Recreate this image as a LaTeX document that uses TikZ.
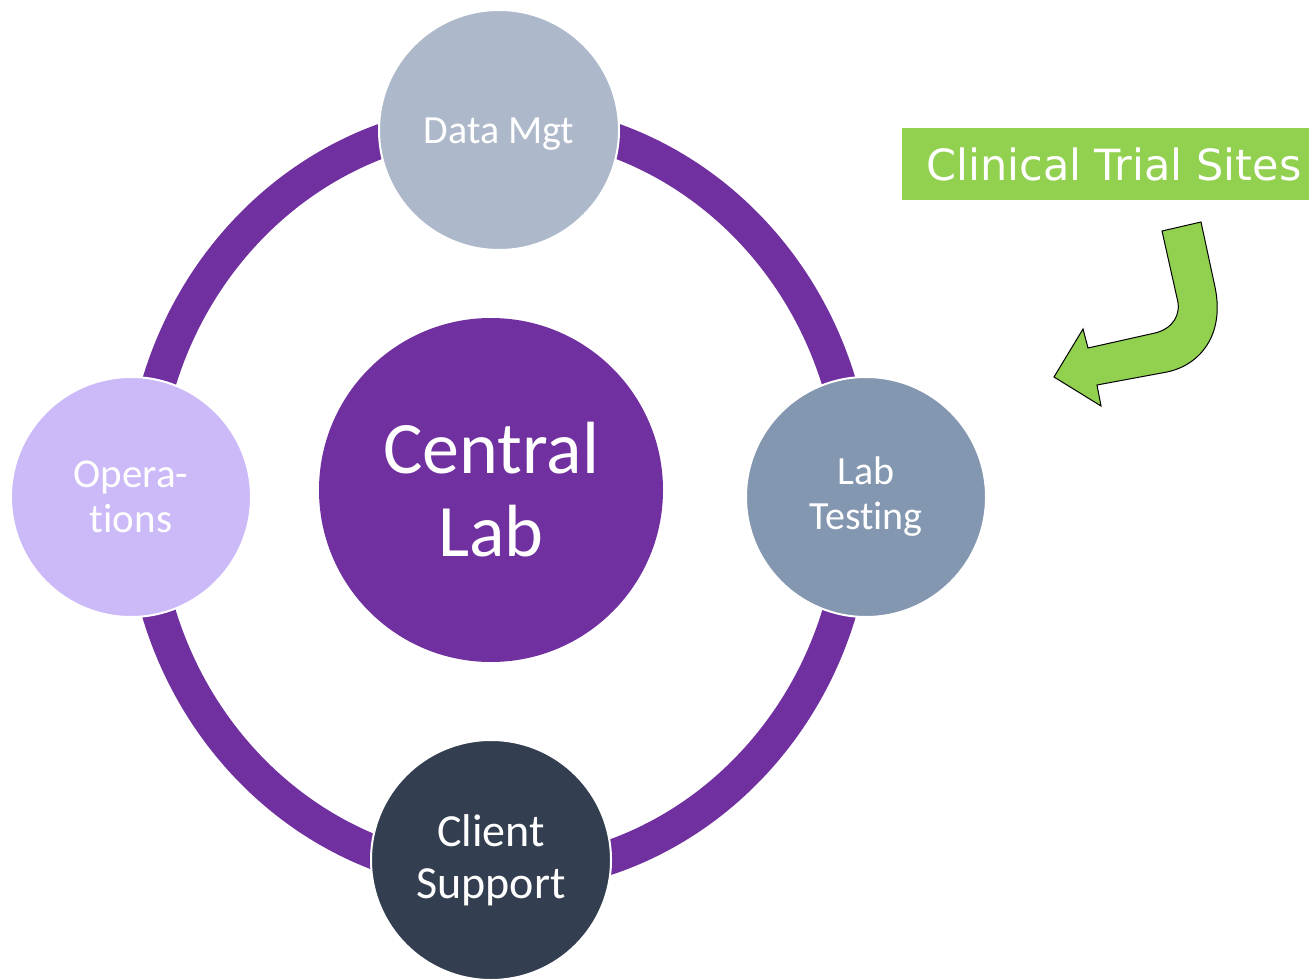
\documentclass[tikz,border=0pt]{standalone}
\usepackage{fontspec}
\setmainfont{Carlito}[Ligatures={NoCommon,NoContextual,NoRare},Contextuals=NoAlternate]
\newfontfamily\sitefont{DejaVu Sans}
\definecolor{ringpurple}{RGB}{112,48,160}
\definecolor{datagray}{RGB}{173,185,202}
\definecolor{labblue}{RGB}{132,151,176}
\definecolor{supportnavy}{RGB}{51,63,80}
\definecolor{opslilac}{RGB}{204,185,248}
\definecolor{sitegreen}{RGB}{146,208,80}
\begin{document}
\begin{tikzpicture}[x=1pt,y=-1pt,
    hub/.style={circle,fill=ringpurple,minimum size=344pt,inner sep=0pt,text=white,align=center,font=\fontsize{74}{83}\selectfont},
    sat/.style={circle,draw=white,line width=2pt,minimum size=240pt,inner sep=0pt,text=white,align=center,font=\fontsize{40}{45}\selectfont},
    ring/.style={draw=ringpurple,line width=34pt}]
        \useasboundingbox (0,0) rectangle (1309,979);
        % ring behind the satellites
        \coordinate (ctr) at (499,498);
        \draw[ring] (ctr) ellipse [x radius=357, y radius=378];
        \node[hub] (central) at (491,490) {Central\\Lab};
        \node[sat,fill=datagray,text height=26pt,text depth=0pt] (data) at (499,130) {Data Mgt};
        \node[sat,fill=labblue] (lab) at (866,497) {Lab\\Testing};
        \node[sat,fill=supportnavy,font=\fontsize{46}{52}\selectfont] (support) at (491,860) {Client\\Support};
        \node[sat,fill=opslilac,font=\fontsize{41}{45}\selectfont] (ops) at (131,497) {Opera-\\tions};
        % sites label and bent arrow
        \node[fill=sitegreen,text=white,anchor=west,minimum height=72pt,inner xsep=24pt,inner ysep=0pt,font=\sitefont\fontsize{43}{44}\selectfont] (sites) at (902,164) {Clinical Trial Sites};
        \draw[fill=sitegreen,line width=1pt] (1162,231) -- (1201,222) -- (1215,287)
            .. controls (1225,335) and (1200,365) .. (1167,372) -- (1097,385) -- (1101,406)
            -- (1054,377) -- (1083,329) -- (1088,348) -- (1155,333)
            .. controls (1172,329) and (1182,315) .. (1177,298) -- cycle;
\end{tikzpicture}
\end{document}
